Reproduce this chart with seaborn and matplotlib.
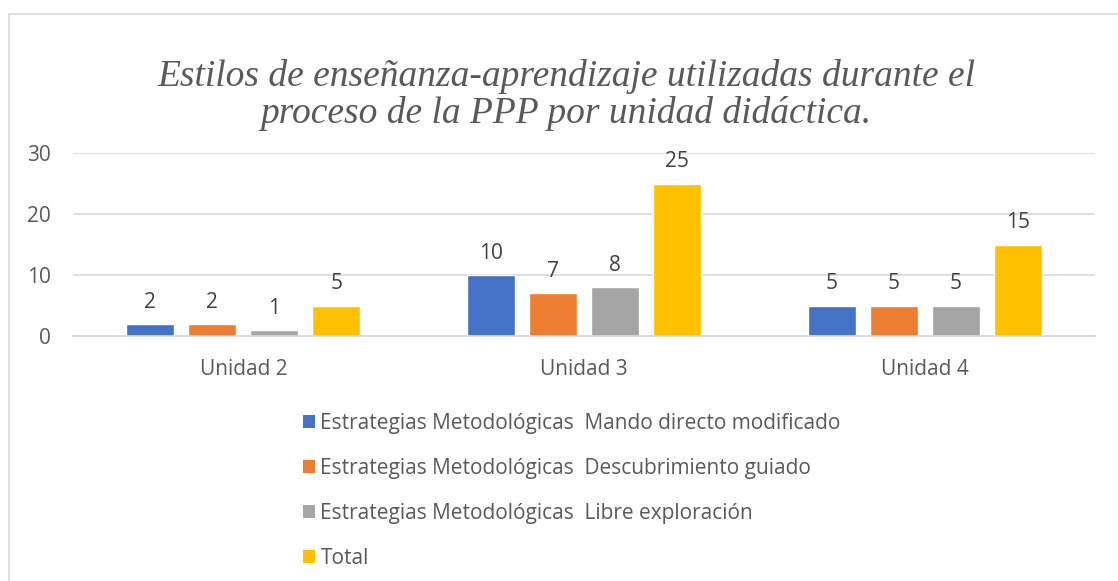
import matplotlib
matplotlib.use("Agg")
import matplotlib.pyplot as plt
from matplotlib.patches import Patch
from matplotlib.lines import Line2D
import seaborn as sns
import pandas as pd

# Data
unidades = ["Unidad 2", "Unidad 3", "Unidad 4"]
series = [
    "Estrategias Metodológicas  Mando directo modificado",
    "Estrategias Metodológicas  Descubrimiento guiado",
    "Estrategias Metodológicas  Libre exploración",
    "Total",
]
mando = [2, 10, 5]
descubrimiento = [2, 7, 5]
libre = [1, 8, 5]
total = [5, 25, 15]
colors = ["#4472C4", "#ED7D31", "#A5A5A5", "#FFC000"]

rows = []
for name, vals in zip(series, [mando, descubrimiento, libre, total]):
    for u, v in zip(unidades, vals):
        rows.append({"Unidad": u, "Serie": name, "Valor": v})
df = pd.DataFrame(rows)

sns.set_theme(style="white")
plt.rcParams["font.family"] = ["Open Sans", "DejaVu Sans"]
txt = "#595959"
fs = 15

fig = plt.figure(figsize=(11.18, 5.81), dpi=100)
ax = fig.add_axes([73 / 1118, (581 - 336) / 581, 1022 / 1118, 183 / 581])

sns.barplot(
    data=df, x="Unidad", y="Valor", hue="Serie", palette=colors,
    width=0.728, gap=0.225, ax=ax, legend=False, saturation=1,
)

for cont in ax.containers:
    ax.bar_label(cont, padding=8, fontsize=fs, color="#404040")

ax.set_xlim(-0.5, 2.5)
ax.set_ylim(0, 30)
ax.set_yticks([0, 10, 20, 30])
ax.yaxis.grid(True, color="#D9D9D9", linewidth=1.2)
ax.set_axisbelow(True)
for s in ["top", "right", "left"]:
    ax.spines[s].set_visible(False)
ax.spines["bottom"].set_color("#D9D9D9")
ax.spines["bottom"].set_linewidth(1.2)
ax.tick_params(axis="both", length=0, labelsize=fs, colors=txt)
ax.tick_params(axis="x", pad=16.5)
ax.tick_params(axis="y", pad=16)
ax.set_xlabel("")
ax.set_ylabel("")

fig.text(
    566 / 1118, 1 - 95 / 581,
    "Estilos de enseñanza-aprendizaje utilizadas durante el\nproceso de la PPP por unidad didáctica.",
    ha="center", va="center", fontsize=27, style="italic", color=txt,
    family=["Liberation Serif", "DejaVu Serif"], linespacing=1.1,
)

handles = [Patch(facecolor=c, edgecolor="none") for c in colors]
fig.legend(
    handles, series, loc="upper left", bbox_to_anchor=(284 / 1118, 1 - 394 / 581),
    frameon=False, fontsize=fs, labelcolor=txt, handlelength=0.6,
    handleheight=0.6, handletextpad=0.25, labelspacing=1.15,
)

# chart border (top and left edges visible in the reference)
fig.add_artist(Line2D([9 / 1118, 1], [1 - 14 / 581, 1 - 14 / 581], color="#D9D9D9", lw=1.2))
fig.add_artist(Line2D([9 / 1118, 9 / 1118], [0, 1 - 14 / 581], color="#D9D9D9", lw=1.2))

fig.savefig("out.png", dpi=100, facecolor="white")
